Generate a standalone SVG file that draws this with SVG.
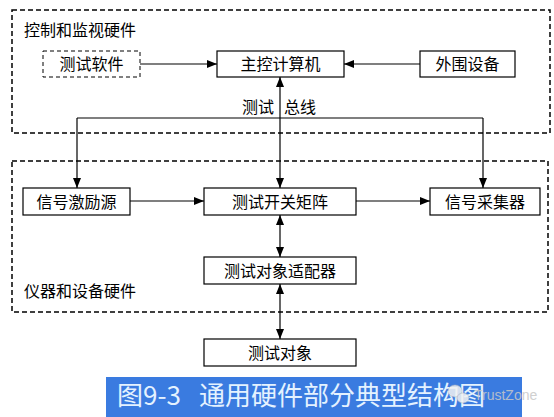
<svg xmlns="http://www.w3.org/2000/svg" width="554" height="417" viewBox="0 0 554 417">
<defs>
<style>
.t{font-family:"Noto Sans CJK SC","Noto Sans",sans-serif;font-size:16px;fill:#000}
.c{text-anchor:middle}
.box{fill:#fff;stroke:#000;stroke-width:1.2}
.grp{fill:none;stroke:#000;stroke-width:1.5;stroke-dasharray:5,3}
.ln{fill:none;stroke:#000;stroke-width:1.2}
</style>
<marker id="ah" viewBox="0 0 10 8" refX="10" refY="4" markerWidth="10" markerHeight="8" markerUnits="userSpaceOnUse" orient="auto-start-reverse">
<path d="M0,0 L10,4 L0,8 z" fill="#000"/>
</marker>
</defs>
<rect width="554" height="417" fill="#fff"/>

<g id="group-control">
<rect class="grp" x="12" y="10" width="538" height="123"/>
<text class="t" x="24" y="36">控制和监视硬件</text>
</g>
<g id="group-instrument">
<rect class="grp" x="12" y="161" width="536" height="151"/>
<text class="t" x="24" y="297">仪器和设备硬件</text>
</g>

<g id="connectors">
<line class="ln" x1="140" y1="64" x2="217" y2="64" marker-end="url(#ah)"/>
<line class="ln" x1="420" y1="64" x2="344" y2="64" marker-end="url(#ah)"/>
<line class="ln" x1="280" y1="77" x2="280" y2="188" marker-start="url(#ah)" marker-end="url(#ah)"/>
<line class="ln" x1="77" y1="118" x2="483" y2="118"/>
<line class="ln" x1="77" y1="118" x2="77" y2="188" marker-end="url(#ah)"/>
<line class="ln" x1="483" y1="118" x2="483" y2="188" marker-end="url(#ah)"/>
<line class="ln" x1="130" y1="201" x2="204" y2="201" marker-end="url(#ah)"/>
<line class="ln" x1="356" y1="201" x2="430" y2="201" marker-end="url(#ah)"/>
<line class="ln" x1="280" y1="215" x2="280" y2="257" marker-start="url(#ah)" marker-end="url(#ah)"/>
<line class="ln" x1="280" y1="284" x2="280" y2="339" marker-start="url(#ah)" marker-end="url(#ah)"/>
<text class="t" y="113"><tspan x="242">测试</tspan><tspan x="284">总线</tspan></text>
</g>

<g id="test-software">
<rect x="43" y="51" width="97" height="26" fill="#fff" stroke="#000" stroke-width="1" stroke-dasharray="4,3"/>
<text class="t c" x="91.5" y="70">测试软件</text>
</g>
<g id="host-computer">
<rect class="box" x="217" y="51" width="127" height="26"/>
<text class="t c" x="280.5" y="70">主控计算机</text>
</g>
<g id="peripherals">
<rect class="box" x="420" y="51" width="95" height="26"/>
<text class="t c" x="467.5" y="70">外围设备</text>
</g>
<g id="signal-source">
<rect class="box" x="23" y="188" width="107" height="27"/>
<text class="t c" x="76.5" y="207.5">信号激励源</text>
</g>
<g id="switch-matrix">
<rect class="box" x="204" y="188" width="152" height="27"/>
<text class="t c" x="280" y="207.5">测试开关矩阵</text>
</g>
<g id="signal-acquirer">
<rect class="box" x="430" y="188" width="110" height="27"/>
<text class="t c" x="485" y="207.5">信号采集器</text>
</g>
<g id="adapter">
<rect class="box" x="204" y="257" width="152" height="27"/>
<text class="t c" x="280" y="276.5">测试对象适配器</text>
</g>
<g id="test-object">
<rect class="box" x="204" y="339" width="152" height="27"/>
<text class="t c" x="280" y="358.5">测试对象</text>
</g>

<g id="caption">
<rect x="106" y="377" width="416" height="40" fill="#3a7be0"/>
<text font-family="'Noto Sans CJK SC','Noto Sans',sans-serif" font-size="26" fill="#e4f2ff" y="405"><tspan x="117">图</tspan><tspan x="143">9-3</tspan><tspan x="199">通用硬件部分典型结构图</tspan></text>
</g>
<g id="watermark" opacity="0.85">
<ellipse cx="455" cy="391" rx="7" ry="6" fill="#f2f2f2" stroke="#bbb" stroke-width="0.6"/>
<ellipse cx="463" cy="398" rx="6" ry="5" fill="#f2f2f2" stroke="#bbb" stroke-width="0.6"/>
<text font-family="'Liberation Sans',Arial,sans-serif" font-size="14" fill="#c8c8c8" x="474" y="400">TrustZone</text>
</g>
</svg>
